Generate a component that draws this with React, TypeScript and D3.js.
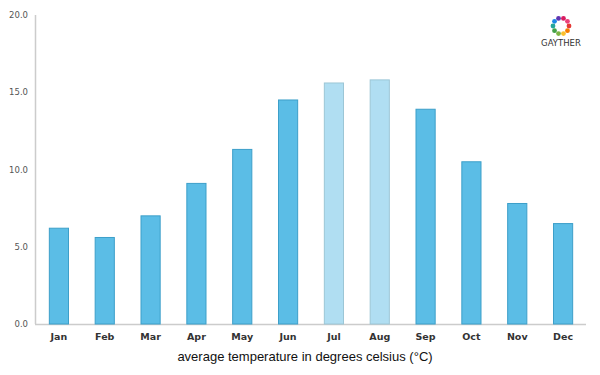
import React from "react";
import * as d3 from "d3";

const months = ["Jan", "Feb", "Mar", "Apr", "May", "Jun", "Jul", "Aug", "Sep", "Oct", "Nov", "Dec"];
const temps = [6.2, 5.6, 7.0, 9.1, 11.3, 14.5, 15.6, 15.8, 13.9, 10.5, 7.8, 6.5];
const highlighted = ["Jul", "Aug"];
const yTicks = [0, 5, 10, 15, 20];
const logoColors = ["#e53935", "#f57c00", "#fbc02d", "#7cb342", "#43a047", "#26a69a", "#1e88e5", "#5e35b1", "#d81b60", "#ec407a"];

export default function App() {
  const W = 600, H = 375;
  const left = 36, right = 586, top = 15, bottom = 324;
  const x = d3.scaleBand<string>().domain(months).range([left, right]).paddingInner(0.56).paddingOuter(0.28);
  const y = d3.scaleLinear().domain([0, 20]).range([bottom, top]);
  const font = "'DejaVu Sans', sans-serif";
  return (
    <svg width={W} height={H} style={{ position: "absolute", left: 0, top: 0, background: "#fff" }}>
      <rect width={W} height={H} fill="#fff" />
      <line x1={left - 0.5} x2={left - 0.5} y1={top} y2={bottom} stroke="#cccccc" strokeWidth={1.5} />
      <line x1={left - 1} x2={right} y1={bottom + 0.5} y2={bottom + 0.5} stroke="#cccccc" strokeWidth={1.5} />
      {yTicks.map((t) => (
        <text key={t} x={28} y={y(t) + 3} textAnchor="end" fontSize={8.5} fill="#555" fontFamily={font}>
          {t.toFixed(1)}
        </text>
      ))}
      {months.map((m, i) => {
        const hl = highlighted.includes(m);
        return (
          <rect
            key={m}
            x={x(m)! + 0.5}
            y={y(temps[i])}
            width={x.bandwidth() - 1}
            height={bottom - y(temps[i])}
            fill={hl ? "#b0def2" : "#5bbde6"}
            stroke={hl ? "#9cc6d6" : "#3d9fc9"}
            strokeWidth={1}
          />
        );
      })}
      {months.map((m) => (
        <text key={m} x={x(m)! + x.bandwidth() / 2} y={340} textAnchor="middle" fontSize={9.5} fontWeight="bold" fill="#333" fontFamily={font}>
          {m}
        </text>
      ))}
      <text x={305} y={361} textAnchor="middle" fontSize={13} fill="#111" fontFamily="'Liberation Sans', Arial, sans-serif">
        average temperature in degrees celsius (°C)
      </text>
      <g transform="translate(561,26)">
        {logoColors.map((c, i) => {
          const a = (i / logoColors.length) * Math.PI * 2;
          return <circle key={i} cx={Math.cos(a) * 8} cy={Math.sin(a) * 8} r={2.4} fill={c} />;
        })}
      </g>
      <text x={561} y={46} textAnchor="middle" fontSize={8.5} fill="#333" fontFamily={font}>
        GAYTHER
      </text>
    </svg>
  );
}
